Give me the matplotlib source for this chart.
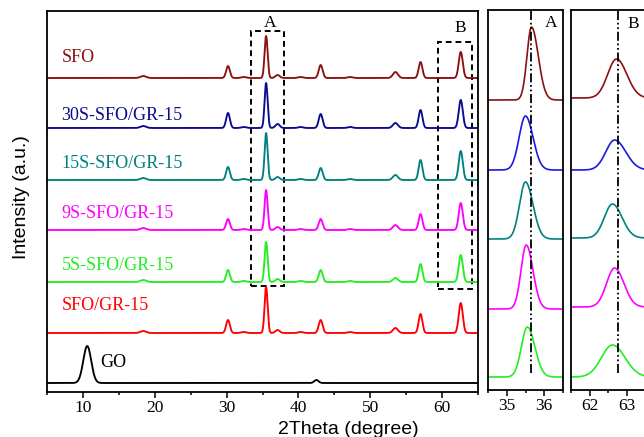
import numpy as np
import matplotlib
matplotlib.use("Agg")
import matplotlib.pyplot as plt
from matplotlib.ticker import MultipleLocator
from matplotlib.patches import Rectangle

# ---------------- data ----------------
series_names = ["SFO", "30S-SFO/GR-15", "15S-SFO/GR-15", "9S-SFO/GR-15",
                "5S-SFO/GR-15", "SFO/GR-15"]
series_colors = ["#8B1010", "#0A0A90", "#008080", "#FF00FF", "#22EE22", "#FF0000"]
panel_colors = ["#8B1010", "#1A1AE0", "#008080", "#FF00FF", "#22EE22"]

# main panel: common reflections (2theta, deg) and Gaussian sigma
peak_pos = [18.4, 30.2, 32.4, 35.5, 37.1, 40.3, 43.1, 47.2, 53.5, 57.0, 62.6]
peak_sig = [0.40, 0.26, 0.35, 0.21, 0.30, 0.35, 0.27, 0.35, 0.35, 0.26, 0.28]
# peak heights (a.u.) per series
h_SFO   = [2, 12, 1, 42, 3, 1, 13, 1, 6, 16, 26]
h_30S   = [2, 15, 1, 45, 4, 1, 14, 1, 5, 18, 28]
h_15S   = [2, 13, 1, 47, 3, 1, 12, 1, 5, 20, 29]
h_9S    = [2, 11, 1, 40, 3, 1, 11, 1, 5, 16, 27]
h_5S    = [2, 12, 1, 40, 3, 1, 12, 1, 4, 18, 27]
h_SFOGR = [2, 13, 1, 46, 3, 1, 13, 1, 5, 19, 30]
heights = [h_SFO, h_30S, h_15S, h_9S, h_5S, h_SFOGR]
offsets = [314, 264, 212, 162, 110, 59]

# GO pattern
go_pos = [10.6, 42.5]
go_sig = [0.55, 0.30]
go_h = [37, 3]
go_offset = 9

# zoom panel A (35.5 deg reflection): centre, height, left/right sigma, offset
A_center = [35.66, 35.50, 35.50, 35.52, 35.55]
A_height = [73, 54, 57, 64, 50]
A_sigL = [0.12, 0.17, 0.16, 0.14, 0.16]
A_sigR = [0.18, 0.20, 0.20, 0.18, 0.20]
A_offset = [290, 220, 151, 81, 13]

# zoom panel B (62.6 deg reflection)
B_center = [62.73, 62.68, 62.62, 62.68, 62.62]
B_height = [39, 30, 34, 39, 32]
B_sigL = [0.24, 0.24, 0.22, 0.22, 0.30]
B_sigR = [0.28, 0.30, 0.26, 0.25, 0.34]
B_offset = [292, 220, 152, 83, 13]

A_line = 35.66
B_line = 62.76


def gauss_sum(x, pos, sig, h):
    y = np.zeros_like(x)
    for p, s, a in zip(pos, sig, h):
        y += a * np.exp(-0.5 * ((x - p) / s) ** 2)
    return y


def split_gauss(x, c, h, sl, sr):
    s = np.where(x < c, sl, sr)
    return h * np.exp(-0.5 * ((x - c) / s) ** 2)


serif = "Liberation Serif"
sans = "Liberation Sans"

fig = plt.figure(figsize=(6.44, 4.37), dpi=100)
W, H = 644.0, 437.0


def box(l, t, r, b):
    return [l / W, 1 - b / H, (r - l) / W, (b - t) / H]


ax = fig.add_axes(box(47, 11, 478, 392))
axA = fig.add_axes(box(488, 10, 563, 390))
axB = fig.add_axes(box(571, 10, 645, 390))

x = np.linspace(5, 65, 3000)
for name, col, h, off in zip(series_names, series_colors, heights, offsets):
    ax.plot(x, off + gauss_sum(x, peak_pos, peak_sig, h), color=col, lw=1.35)
ax.plot(x, go_offset + gauss_sum(x, go_pos, go_sig, go_h), color="black", lw=1.35)

label_y = [335, 276, 228, 179, 126.5, 86]
label_x = [7.1, 6.95, 6.95, 6.95, 7.1, 7.1]
for name, col, lx, ly in zip(series_names, series_colors, label_x, label_y):
    ax.text(lx, ly, name, color=col, fontsize=13, family=serif, va="center", ha="left")
ax.text(12.4, 29.5, "GO", color="black", fontsize=13, family=serif, va="center", ha="left")

# dashed boxes
ax.add_patch(Rectangle((33.4, 106), 38.0 - 33.4, 361 - 106, fill=False,
                       ls=(0, (3, 2)), lw=1.4, ec="black"))
ax.add_patch(Rectangle((59.5, 103), 64.1 - 59.5, 350 - 103, fill=False,
                       ls=(0, (3, 2)), lw=1.4, ec="black"))
ax.text(36.1, 369, "A", fontsize=12.5, family=serif, ha="center", va="center")
ax.text(62.5, 364, "B", fontsize=12.5, family=serif, ha="center", va="center")

ax.set_xlim(5, 65)
ax.set_ylim(0, 381)
ax.set_yticks([])
ax.xaxis.set_major_locator(MultipleLocator(10))
ax.xaxis.set_minor_locator(MultipleLocator(5))

fig.text(348.5 / W, 1 - 434 / H, "2Theta (degree)", family=sans, fontsize=14,
         ha="center", va="baseline")
fig.text(22 / W, 1 - 197 / H, "Intensity (a.u.)", family=sans, fontsize=14,
         ha="center", va="center", rotation=90)

# zoom panels
xa = np.linspace(34.5, 36.5, 800)
for i in range(5):
    axA.plot(xa, A_offset[i] + split_gauss(xa, A_center[i], A_height[i], A_sigL[i], A_sigR[i]),
             color=panel_colors[i], lw=1.2)
axA.plot([A_line, A_line], [17, 380], color="black", lw=1.3, ls=(0, (5, 1.5, 1, 1.5, 1, 1.5)))
axA.text(36.19, 367, "A", fontsize=12.5, family=serif, ha="center", va="center")
axA.set_xlim(34.5, 36.5)
axA.xaxis.set_major_locator(MultipleLocator(1))
axA.xaxis.set_minor_locator(MultipleLocator(0.5))

xb = np.linspace(61.5, 63.5, 800)
for i in range(5):
    axB.plot(xb, B_offset[i] + split_gauss(xb, B_center[i], B_height[i], B_sigL[i], B_sigR[i]),
             color=panel_colors[i], lw=1.2)
axB.plot([B_line, B_line], [17, 380], color="black", lw=1.3, ls=(0, (5, 1.5, 1, 1.5, 1, 1.5)))
axB.text(63.18, 366.5, "B", fontsize=12.5, family=serif, ha="center", va="center")
axB.set_xlim(61.5, 63.5)
axB.xaxis.set_major_locator(MultipleLocator(1))
axB.xaxis.set_minor_locator(MultipleLocator(0.5))

for a in (axA, axB):
    a.set_ylim(0, 380)
    a.set_yticks([])

for a in (ax, axA, axB):
    for s in a.spines.values():
        s.set_linewidth(1.3)
    a.tick_params(axis="x", which="major", direction="out", length=4, width=1.1,
                  labelsize=12.5, pad=2)
    a.tick_params(axis="x", which="minor", direction="out", length=2.5, width=1.1)
    for lab in a.get_xticklabels():
        lab.set_family(serif)

fig.savefig("out.png", dpi=100)
